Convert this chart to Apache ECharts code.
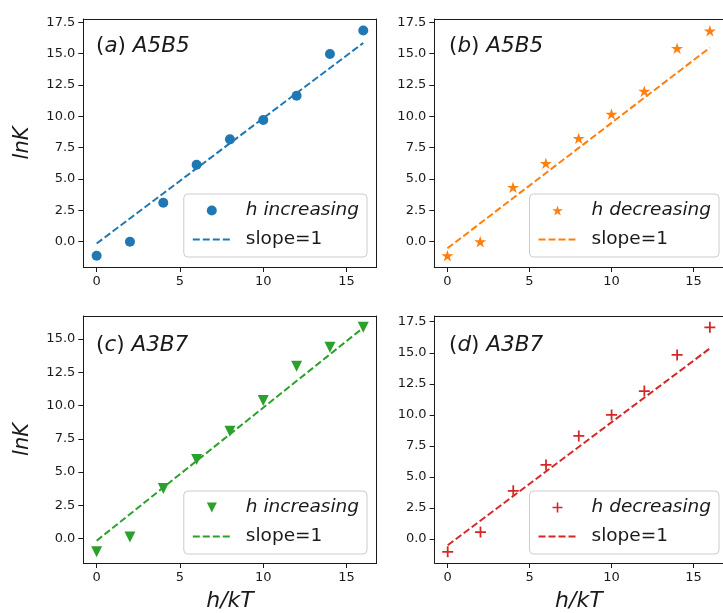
<!DOCTYPE html>
<html>
<head>
<meta charset="utf-8">
<script src="https://cdn.jsdelivr.net/npm/echarts@6/dist/echarts.min.js"></script>
<style>
  html, body { margin: 0; padding: 0; background: #ffffff; }
  #chart { width: 723px; height: 613px; }
</style>
</head>
<body>
<div id="chart"></div>
<script>
// Field strength h/kT sampled in every run
const hOverKT = [0, 2, 4, 6, 8, 10, 12, 14, 16];

// ln K measured for each composition and sweep direction
const lnK_a = [-1.12, 0.0, 3.11, 6.14, 8.16, 9.70, 11.64, 14.97, 16.84];
const lnK_b = [-1.12, 0.0, 4.34, 6.25, 8.24, 10.18, 12.0, 15.42, 16.82];
const lnK_c = [-0.99, 0.13, 3.76, 5.94, 8.06, 10.37, 12.95, 14.37, 15.87];
const lnK_d = [-1.03, 0.56, 3.88, 5.97, 8.30, 9.99, 11.92, 14.82, 17.05];

// Reference lines of unit slope, given at their two ends
const slopeX = [0, 16];
const slope_a = [-0.15, 15.85];
const slope_b = [-0.53, 15.47];
const slope_c = [-0.16, 15.84];
const slope_d = [-0.5, 15.35];

// Tick positions
const xTicks = [0, 5, 10, 15];
const yTicksTall = [0, 2.5, 5, 7.5, 10, 12.5, 15, 17.5];
const yTicksShort = [0, 2.5, 5, 7.5, 10, 12.5, 15];

// Text
const legendPoints = ['h increasing', 'h decreasing', 'h increasing', 'h decreasing'];
const legendFit = 'slope=1';
const panelTags = ['a', 'b', 'c', 'd'];
const panelSamples = ['A5B5', 'A5B5', 'A3B7', 'A3B7'];
const yName = 'lnK';
const xName = 'h/kT';

const FONT = 'DejaVu Sans';
const INK = '#1a1a1a';

// Marker outlines
const STAR = 'path://M0,-10 L2.245,-3.09 L9.511,-3.09 L3.633,1.18 L5.878,8.09 L0,3.82 L-5.878,8.09 L-3.633,1.18 L-9.511,-3.09 L-2.245,-3.09 Z';
const PLUS = 'path://M-1.6,-10 L1.6,-10 L1.6,-1.6 L10,-1.6 L10,1.6 L1.6,1.6 L1.6,10 L-1.6,10 L-1.6,1.6 L-10,1.6 L-10,-1.6 L-1.6,-1.6 Z';
const TRI_DOWN = 'path://M-10,-10 L10,-10 L0,10 Z';

const panels = [
  { y: lnK_a, fit: slope_a, color: '#1f77b4', symbol: 'circle', size: 10,
    yTicks: yTicksTall, yMin: -2.02, yMax: 17.76,
    grid: { left: 83.3, top: 19, width: 293.3, height: 248 },
    showY: true, showX: false, legend: { right: 356, bottom: 356 }, title: { left: 96, top: 35 } },
  { y: lnK_b, fit: slope_b, color: '#ff7f0e', symbol: STAR, size: 12,
    yTicks: yTicksTall, yMin: -2.02, yMax: 17.76,
    grid: { left: 434.3, top: 19, width: 294.5, height: 248 },
    showY: false, showX: false, legend: { right: 4, bottom: 356 }, title: { left: 449, top: 35 } },
  { y: lnK_c, fit: slope_c, color: '#2ca02c', symbol: TRI_DOWN, size: 11,
    yTicks: yTicksShort, yMin: -1.83, yMax: 16.72,
    grid: { left: 83.3, top: 316, width: 293.3, height: 247.3 },
    showY: true, showX: true, legend: { right: 356, bottom: 59 }, title: { left: 96, top: 334 } },
  { y: lnK_d, fit: slope_d, color: '#d62728', symbol: PLUS, size: 11,
    yTicks: yTicksTall, yMin: -1.93, yMax: 17.96,
    grid: { left: 434.6, top: 316, width: 294.5, height: 247.3 },
    showY: false, showX: true, legend: { right: 4, bottom: 59 }, title: { left: 449, top: 334 } }
];

const frameLine = { show: true, onZero: false, lineStyle: { color: INK, width: 1 } };
const tickFmt1 = v => Number(v).toFixed(1);

const option = {
  animation: false,
  backgroundColor: '#ffffff',
  grid: [], xAxis: [], yAxis: [], series: [], legend: [], title: []
};

const nameOf = {};

panels.forEach((p, i) => {
  option.grid.push(Object.assign({ containLabel: false }, p.grid));

  // bottom axis with ticks, plus a bare top spine
  option.xAxis.push({
    gridIndex: i, type: 'value', position: 'bottom', min: -0.8, max: 16.8,
    axisLine: frameLine,
    axisTick: { show: true, length: 5, inside: false, customValues: xTicks, lineStyle: { color: INK, width: 1 } },
    axisLabel: { customValues: xTicks, color: INK, fontFamily: FONT, fontSize: 13, margin: 8 },
    splitLine: { show: false },
    name: p.showX ? xName : '', nameLocation: 'middle', nameGap: 27,
    nameTextStyle: { fontFamily: FONT, fontStyle: 'italic', fontSize: 22, color: INK }
  });
  option.xAxis.push({
    gridIndex: i, type: 'value', position: 'top', min: -0.8, max: 16.8,
    axisLine: frameLine, axisTick: { show: false }, axisLabel: { show: false }, splitLine: { show: false }
  });

  // left axis with ticks, plus a bare right spine
  option.yAxis.push({
    gridIndex: i, type: 'value', position: 'left', min: p.yMin, max: p.yMax,
    axisLine: frameLine,
    axisTick: { show: true, length: 5, inside: false, customValues: p.yTicks, lineStyle: { color: INK, width: 1 } },
    axisLabel: { customValues: p.yTicks, formatter: tickFmt1, color: INK, fontFamily: FONT, fontSize: 13, margin: 8 },
    splitLine: { show: false },
    name: p.showY ? yName : '', nameLocation: 'middle', nameRotate: 90, nameGap: 50,
    nameTextStyle: { fontFamily: FONT, fontStyle: 'italic', fontSize: 21, color: INK }
  });
  option.yAxis.push({
    gridIndex: i, type: 'value', position: 'right', min: p.yMin, max: p.yMax,
    axisLine: frameLine, axisTick: { show: false }, axisLabel: { show: false }, splitLine: { show: false }
  });

  const ptsName = 'pts-' + panelTags[i];
  const fitName = 'fit-' + panelTags[i];
  nameOf[ptsName] = legendPoints[i];
  nameOf[fitName] = legendFit;

  option.series.push({
    type: 'scatter', name: ptsName, xAxisIndex: 2 * i, yAxisIndex: 2 * i,
    data: hOverKT.map((x, k) => [x, p.y[k]]),
    symbol: p.symbol, symbolSize: p.size, symbolKeepAspect: true,
    itemStyle: { color: p.color, opacity: 1 }, z: 2, silent: true
  });
  option.series.push({
    type: 'line', name: fitName, xAxisIndex: 2 * i, yAxisIndex: 2 * i,
    data: slopeX.map((x, k) => [x, p.fit[k]]),
    symbol: 'none', showSymbol: false,
    lineStyle: { color: p.color, width: 2, type: [7, 3] },
    itemStyle: { color: p.color }, z: 3, silent: true
  });

  option.legend.push({
    orient: 'vertical', align: 'left', right: p.legend.right, bottom: p.legend.bottom,
    data: [
      { name: ptsName, textStyle: { fontStyle: 'italic' } },
      // dashed line only: its marker is kept invisible
      { name: fitName, itemStyle: { opacity: 0 } }
    ],
    formatter: n => nameOf[n],
    selectedMode: false,
    symbolKeepAspect: true,
    itemWidth: 38, itemHeight: 10, itemGap: 10,
    padding: [7, 8, 8, 8],
    backgroundColor: 'rgba(255,255,255,0.8)',
    borderColor: '#cccccc', borderWidth: 1, borderRadius: 4,
    textStyle: { fontFamily: FONT, fontSize: 18.5, color: INK, padding: [0, 0, 0, 10] }
  });

  option.title.push({
    left: p.title.left, top: p.title.top, padding: 0,
    text: '{p|(}{i|' + panelTags[i] + '}{p|)} {i|' + panelSamples[i] + '}',
    textStyle: {
      fontFamily: FONT, fontSize: 21.5, fontWeight: 'normal', color: INK,
      rich: {
        p: { fontFamily: FONT, fontSize: 21.5, color: INK },
        i: { fontFamily: FONT, fontSize: 21.5, fontStyle: 'italic', color: INK }
      }
    }
  });
});

const chart = echarts.init(document.getElementById('chart'), null, { renderer: 'canvas' });
chart.setOption(option);
</script>
</body>
</html>
